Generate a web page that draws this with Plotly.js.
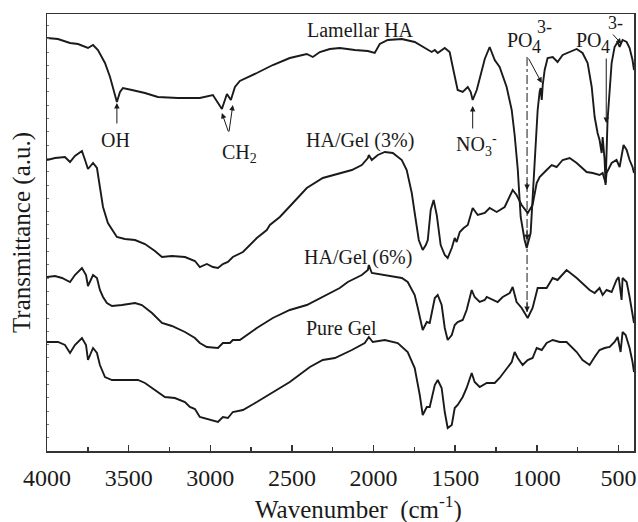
<!DOCTYPE html>
<html>
<head>
<meta charset="utf-8">
<script src="https://cdn.plot.ly/plotly-3.0.1.min.js"></script>
<style>html,body{margin:0;padding:0;background:#fff;}#chart{width:638px;height:522px;}</style>
</head>
<body>
<div id="chart"></div>
<script>
// Wavenumber (cm^-1) and transmittance (a.u.)
const wnLamellar = [4000,3933,3859,3810,3749,3718,3688,3645,3614,3596,3572,3553,3535,3480,3400,3321,3198,3094,3064,2984,2972,2929,2898,2874,2849,2819,2715,2617,2513,2409,2372,2329,2268,2207,2115,2035,1993,1962,1913,1827,1748,1687,1644,1625,1607,1564,1534,1515,1485,1454,1423,1405,1393,1368,1338,1319,1289,1258,1228,1185,1154,1136,1117,1099,1075,1062,1038,1013,995,983,977,970,964,952,934,903,873,842,799,756,720,689,664,646,628,616,603,597,585,579,567,554,542,524,505,493,475,450,432,414,405];
const tLamellar = [413,412,408,407,403,406,401,388,374,364,349,359,363,361,358,354,353,353,353,356,353,342,357,351,364,370,378,386,393,397,394,399,402,403,401,400,398,407,411,412,409,403,399,401,398,403,399,384,361,359,364,359,351,361,381,392,404,391,384,364,341,316,282,234,211,203,218,286,341,359,363,351,366,381,393,394,389,396,399,402,398,388,364,334,318,311,298,314,291,266,331,364,388,404,409,404,411,409,403,391,381];

const wnGel3 = [4000,3951,3890,3859,3829,3786,3767,3749,3718,3694,3676,3657,3627,3602,3572,3523,3461,3400,3339,3296,3235,3155,3125,3094,3064,3021,2984,2953,2923,2892,2862,2800,2715,2654,2635,2574,2494,2409,2311,2225,2133,2072,2035,2029,2011,1974,1931,1882,1827,1797,1766,1748,1723,1699,1680,1668,1650,1632,1613,1589,1564,1546,1521,1503,1491,1472,1448,1423,1393,1362,1319,1289,1246,1197,1148,1124,1093,1056,1026,1001,983,940,909,879,842,799,756,695,658,616,597,579,573,542,512,493,469,450,432,414,405];
const tGel3 = [291,293,294,289,295,300,291,282,288,283,264,244,228,221,214,212,211,207,200,194,195,194,192,190,184,187,184,183,187,189,194,199,213,221,226,234,248,263,273,277,281,286,293,296,291,296,299,298,291,281,258,238,211,201,206,211,241,251,236,206,196,193,203,213,209,219,223,226,243,236,238,243,239,244,261,256,246,238,246,268,274,281,286,284,291,293,288,279,278,276,278,268,278,288,291,284,306,301,291,284,278];

const wnGel6 = [4000,3951,3908,3859,3829,3786,3761,3749,3718,3694,3676,3657,3633,3602,3541,3461,3419,3357,3296,3235,3155,3125,3094,3064,3021,2953,2923,2880,2862,2819,2715,2617,2513,2409,2311,2207,2158,2072,2035,2029,2011,1931,1827,1791,1748,1729,1705,1699,1674,1656,1625,1607,1583,1564,1546,1521,1503,1485,1454,1430,1399,1381,1350,1319,1307,1270,1240,1209,1166,1148,1124,1093,1056,1026,995,940,903,873,818,756,677,646,616,597,573,542,512,499,481,475,450,432,414,405];
const tGel6 = [174,175,173,169,176,183,176,165,176,173,161,154,148,145,146,148,146,138,128,125,119,116,113,108,104,103,108,108,111,111,123,133,141,146,154,163,169,176,181,186,178,176,173,169,156,143,126,121,129,128,153,156,146,123,111,116,126,129,131,141,161,154,149,151,154,151,149,154,158,164,149,143,133,143,163,163,173,171,181,173,161,158,163,156,161,159,171,174,151,173,169,154,136,128];

const wnPure = [4000,3933,3890,3859,3829,3786,3761,3749,3718,3694,3676,3645,3602,3523,3443,3400,3339,3278,3217,3155,3125,3094,3064,3002,2953,2923,2892,2862,2800,2715,2617,2513,2390,2311,2237,2133,2054,2029,2005,1931,1852,1791,1748,1717,1699,1674,1656,1625,1607,1583,1564,1546,1521,1503,1485,1454,1430,1399,1381,1350,1307,1258,1228,1185,1154,1136,1117,1087,1056,1026,1001,970,940,903,860,818,756,720,677,646,616,585,554,524,505,487,475,456,432,414,405];
const tPure = [109,109,106,98,106,113,106,91,103,98,86,74,71,71,71,68,61,54,53,49,44,42,34,31,29,34,33,39,41,49,59,69,84,91,93,101,108,114,109,111,108,99,83,56,36,44,44,66,71,63,39,23,26,43,46,54,63,78,69,64,68,68,73,83,89,99,93,86,91,93,103,101,108,111,109,109,99,91,86,94,101,103,104,109,114,99,119,116,103,89,79];

const seriesNames = ["Lamellar HA","HA/Gel (3%)","HA/Gel (6%)","Pure Gel"];
const xTicks = [4000,3500,3000,2500,2000,1500,1000,500];

const serif = "Liberation Serif";
const ink = "#1a1a1a";

const lineStyle = {color: ink, width: 1.9};
const traces = [
  {x: wnLamellar, y: tLamellar, name: seriesNames[0]},
  {x: wnGel3, y: tGel3, name: seriesNames[1]},
  {x: wnGel6, y: tGel6, name: seriesNames[2]},
  {x: wnPure, y: tPure, name: seriesNames[3]}
].map(t => Object.assign(t, {type: "scatter", mode: "lines", line: lineStyle, hoverinfo: "skip"}));

function lbl(text, x, y, size) {
  return {text: text, x: x, y: y, xref: "x", yref: "y", showarrow: false,
          font: {family: serif, size: size || 20, color: ink}, xanchor: "center", yanchor: "middle"};
}
function arr(x, y, ax, ay, w) {
  return {text: "", x: x, y: y, xref: "x", yref: "y", ax: ax, ay: ay, axref: "pixel", ayref: "pixel",
          showarrow: true, arrowhead: 2, arrowsize: 1.1, arrowwidth: w || 1, arrowcolor: ink};
}

const annotations = [
  lbl(seriesNames[0], 2078, 421),
  lbl(seriesNames[1], 2084, 311),
  lbl(seriesNames[2], 2097, 194),
  lbl(seriesNames[3], 2194, 123),
  lbl("OH", 3578, 311),
  lbl("CH<sub>2</sub>", 2819, 298),
  lbl("NO<sub>3</sub><sup>-</sup>", 1368, 306),
  lbl("PO", 1105, 411),
  lbl("4", 1001, 404, 18),
  lbl("3-", 952, 424, 18),
  lbl("PO", 683, 411),
  lbl("4", 579, 404, 18),
  lbl("3-", 518, 428, 18),
  arr(3572, 348, 0, 22),
  arr(2929, 338, 7, 20),
  arr(2862, 346, -4, 28),
  arr(1393, 345, 0, 24),
  arr(970, 368, -14, -26),
  arr(1060, 261, 0, -12),
  arr(1060, 211, 0, -12),
  arr(1060, 139, 0, -12),
  arr(575, 328, 0, -66),
  arr(481, 407, -10, -11),
  {text: "Wavenumber  (cm<sup>-1</sup>)", xref: "paper", yref: "paper", x: 0.53, y: -0.129,
   xanchor: "center", yanchor: "middle", showarrow: false,
   font: {family: serif, size: 25, color: ink}}
];

const shapes = [
  {type: "line", xref: "x", yref: "y", x0: 1060, x1: 1060, y0: 394, y1: 139,
   line: {color: ink, width: 1, dash: "dashdot"}}
];

const layout = {
  width: 638, height: 522,
  margin: {l: 47, r: 4, t: 14, b: 71},
  paper_bgcolor: "#fff", plot_bgcolor: "#fff",
  showlegend: false,
  font: {family: serif, color: ink},
  xaxis: {
    range: [4000, 405], tickvals: xTicks, ticktext: xTicks.map(String),
    ticks: "inside", ticklen: 6, tickwidth: 1.5, tickcolor: "#333",
    minor: {dtick: 250, tick0: 0, ticks: "inside", ticklen: 4, tickcolor: "#333"},
    showline: true, linecolor: "#333", linewidth: 1.5, mirror: true,
    showgrid: false, zeroline: false,
    ticklabelstandoff: 5,
    tickfont: {family: serif, size: 24, color: ink}
  },
  yaxis: {
    range: [0, 437], showticklabels: false,
    ticks: "inside", ticklen: 2, tickwidth: 1, tickcolor: "#777", dtick: 13.3, tick0: 0,
    showline: true, linecolor: "#333", linewidth: 1.5, mirror: true,
    showgrid: false, zeroline: false,
    title: {text: "Transmittance (a.u.)", font: {family: serif, size: 25, color: ink}, standoff: 8}
  },
  annotations: annotations,
  shapes: shapes
};

Plotly.newPlot("chart", traces, layout, {displayModeBar: false, staticPlot: true});
</script>
</body>
</html>
